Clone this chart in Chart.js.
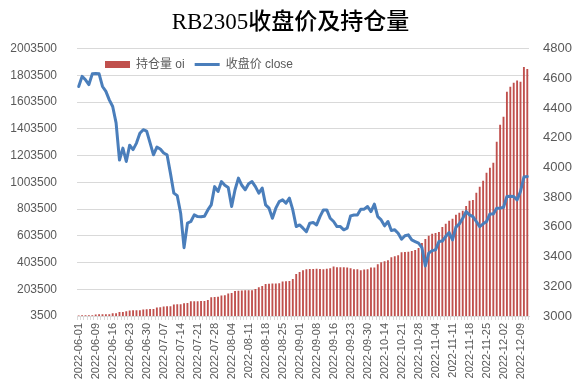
<!DOCTYPE html>
<html>
<head>
<meta charset="utf-8">
<title>RB2305收盘价及持仓量</title>
<script src="https://cdn.jsdelivr.net/npm/chart.js@4"></script>
<style>
  body { margin: 0; background: #fff; }
</style>
</head>
<body>
<canvas id="myChart" width="581" height="387"></canvas>
<script>
// trading days shown on the x axis
const dates = [
  "2022-06-01", "2022-06-02", "2022-06-06", "2022-06-07", "2022-06-08", "2022-06-09", "2022-06-10",
  "2022-06-13", "2022-06-14", "2022-06-15", "2022-06-16", "2022-06-17", "2022-06-20", "2022-06-21",
  "2022-06-22", "2022-06-23", "2022-06-24", "2022-06-27", "2022-06-28", "2022-06-29", "2022-06-30",
  "2022-07-01", "2022-07-04", "2022-07-05", "2022-07-06", "2022-07-07", "2022-07-08", "2022-07-11",
  "2022-07-12", "2022-07-13", "2022-07-14", "2022-07-15", "2022-07-18", "2022-07-19", "2022-07-20",
  "2022-07-21", "2022-07-22", "2022-07-25", "2022-07-26", "2022-07-27", "2022-07-28", "2022-07-29",
  "2022-08-01", "2022-08-02", "2022-08-03", "2022-08-04", "2022-08-05", "2022-08-08", "2022-08-09",
  "2022-08-10", "2022-08-11", "2022-08-12", "2022-08-15", "2022-08-16", "2022-08-17", "2022-08-18",
  "2022-08-19", "2022-08-22", "2022-08-23", "2022-08-24", "2022-08-25", "2022-08-26", "2022-08-29",
  "2022-08-30", "2022-08-31", "2022-09-01", "2022-09-02", "2022-09-05", "2022-09-06", "2022-09-07",
  "2022-09-08", "2022-09-09", "2022-09-13", "2022-09-14", "2022-09-15", "2022-09-16", "2022-09-19",
  "2022-09-20", "2022-09-21", "2022-09-22", "2022-09-23", "2022-09-26", "2022-09-27", "2022-09-28",
  "2022-09-29", "2022-09-30", "2022-10-10", "2022-10-11", "2022-10-12", "2022-10-13", "2022-10-14",
  "2022-10-17", "2022-10-18", "2022-10-19", "2022-10-20", "2022-10-21", "2022-10-24", "2022-10-25",
  "2022-10-26", "2022-10-27", "2022-10-28", "2022-10-31", "2022-11-01", "2022-11-02", "2022-11-03",
  "2022-11-04", "2022-11-07", "2022-11-08", "2022-11-09", "2022-11-10", "2022-11-11", "2022-11-14",
  "2022-11-15", "2022-11-16", "2022-11-17", "2022-11-18", "2022-11-21", "2022-11-22", "2022-11-23",
  "2022-11-24", "2022-11-25", "2022-11-28", "2022-11-29", "2022-11-30", "2022-12-01", "2022-12-02",
  "2022-12-05", "2022-12-06", "2022-12-07", "2022-12-08", "2022-12-09", "2022-12-12", "2022-12-13",
];

// open interest (bars, left axis)
const oi = [
  8000, 8500, 9000, 9500, 10000, 15000, 16000, 16000, 17000, 17000,
  24000, 25000, 33000, 34000, 39000, 45000, 46000, 47000, 47000, 53000,
  54000, 55000, 56000, 67000, 69000, 75000, 76000, 77000, 90000, 91000,
  92000, 98000, 100000, 113000, 114000, 114000, 115000, 116000, 123000, 143000,
  146000, 148000, 157000, 159000, 172000, 175000, 190000, 192000, 195000, 196000,
  196000, 197000, 206000, 218000, 228000, 243000, 245000, 246000, 246000, 248000,
  262000, 264000, 266000, 281000, 318000, 333000, 346000, 353000, 355000, 355000,
  357000, 355000, 354000, 356000, 361000, 373000, 368000, 368000, 368000, 367000,
  361000, 353000, 353000, 346000, 352000, 353000, 366000, 367000, 391000, 406000,
  413000, 421000, 443000, 451000, 458000, 481000, 483000, 484000, 490000, 498000,
  513000, 550000, 580000, 603000, 618000, 625000, 632000, 670000, 693000, 715000,
  730000, 760000, 775000, 790000, 827000, 865000, 872000, 925000, 970000, 1015000,
  1075000, 1112000, 1150000, 1307000, 1434000, 1494000, 1681000, 1719000, 1749000, 1764000,
  1756000, 1866000, 1851000,
];

// close price (line, right axis)
const close = [
  4545, 4613, 4590, 4558, 4630, 4632, 4630, 4545, 4512, 4455,
  4410, 4300, 4050, 4130, 4040, 4150, 4120, 4164, 4230, 4254,
  4245, 4165, 4085, 4137, 4124, 4097, 4085, 3960, 3827, 3810,
  3692, 3460, 3625, 3636, 3681, 3669, 3668, 3672, 3714, 3748,
  3871, 3838, 3905, 3880, 3865, 3737, 3850, 3928, 3880, 3850,
  3890, 3905, 3871, 3827, 3861, 3748, 3726, 3658, 3726, 3770,
  3782, 3760, 3793, 3714, 3602, 3613, 3591, 3568, 3625, 3629,
  3613, 3669, 3714, 3714, 3658, 3636, 3602, 3602, 3580, 3591,
  3674, 3680, 3680, 3719, 3719, 3737, 3703, 3753, 3669, 3647,
  3607, 3636, 3575, 3580, 3557, 3517, 3540, 3546, 3512, 3501,
  3490, 3460, 3337, 3423, 3440, 3445, 3501, 3505, 3535, 3562,
  3512, 3598, 3620, 3658, 3703, 3681, 3669, 3636, 3602, 3620,
  3636, 3687, 3687, 3726, 3726, 3732, 3804, 3806, 3804, 3782,
  3838, 3935, 3939,
];

const oiLabel = "持仓量 oi";
const closeLabel = "收盘价 close";

document.addEventListener("DOMContentLoaded", () => {
  Chart.defaults.font.family = "'Liberation Sans', 'Noto Sans CJK SC', sans-serif";
  Chart.defaults.color = "#595959";
  renderChart();
});

// the legend sits inside the plot area, near its top left corner
const legendInside = {
  id: "legendInside",
  afterLayout(chart) {
    const lg = chart.legend;
    const area = chart.chartArea;
    lg.top = area.top;
    lg.bottom = area.top + 32;
    lg.left = area.left + 18;
    lg.right = chart.width;
  },
};

function renderChart() {
  const ctx = document.getElementById("myChart").getContext("2d");
  new Chart(ctx, {
    data: {
      labels: dates,
      datasets: [
        {
          type: "bar",
          label: oiLabel,
          data: oi,
          yAxisID: "y",
          backgroundColor: "#C0504D",
          barPercentage: 0.55,
          categoryPercentage: 1,
          order: 1,
        },
        {
          type: "line",
          label: closeLabel,
          data: close,
          yAxisID: "y1",
          borderColor: "#4A7EBB",
          borderWidth: 3,
          pointRadius: 0,
          tension: 0,
          borderJoinStyle: "round",
          borderCapStyle: "round",
          order: 0,
        },
      ],
    },
    options: {
      responsive: false,
      animation: false,
      layout: { padding: 0 },
      plugins: {
        title: {
          display: true,
          text: "RB2305收盘价及持仓量",
          color: "#000",
          font: {
            family: "'Liberation Serif', 'Noto Sans CJK SC', serif",
            size: 23,
            weight: 500,
            lineHeight: 1.2,
          },
          padding: { top: 9, bottom: 11 },
        },
        legend: {
          position: "top",
          align: "start",
          maxHeight: 1, // takes no room; moved into the plot after layout
          labels: {
            usePointStyle: true,
            pointStyleWidth: 25,
            boxHeight: 7,
            padding: 10,
            color: "#595959",
            font: { size: 12 },
            // bar first, line drawn as a thick stroke
            generateLabels: (chart) => {
              const items = Chart.defaults.plugins.legend.labels.generateLabels(chart);
              items.sort((a, b) => a.datasetIndex - b.datasetIndex);
              items.forEach((item) => {
                if (item.datasetIndex === 0) {
                  item.pointStyle = "rect";
                  item.fillStyle = "#C0504D";
                  item.strokeStyle = "#C0504D";
                  item.lineWidth = 0;
                } else {
                  item.pointStyle = "line";
                  item.strokeStyle = "#4A7EBB";
                  item.lineWidth = 3;
                }
              });
              return items;
            },
          },
        },
        tooltip: { enabled: false },
      },
      scales: {
        x: {
          offset: true,
          grid: {
            offset: true,
            drawOnChartArea: false,
            tickLength: 4,
            color: "#d9d9d9",
          },
          border: { color: "#d9d9d9" },
          ticks: {
            autoSkip: false,
            minRotation: 90,
            maxRotation: 90,
            padding: 3,
            font: { size: 11 },
            callback: (value, index) => (index % 5 === 0 ? dates[index] : ""),
          },
          afterFit: (scale) => {
            scale.height = 71;
          },
        },
        y: {
          position: "left",
          min: 3500,
          max: 2003500,
          grid: { color: "#d9d9d9", drawTicks: false },
          border: { display: false },
          ticks: {
            stepSize: 200000,
            padding: 20,
            font: { size: 12 },
            callback: (value) => String(value),
          },
          afterFit: (scale) => {
            scale.width = 77;
          },
        },
        y1: {
          position: "right",
          min: 3000,
          max: 4800,
          grid: { drawOnChartArea: false, drawTicks: false },
          border: { display: false },
          ticks: {
            stepSize: 200,
            padding: 14,
            font: { size: 13 },
            callback: (value) => String(value),
          },
          afterFit: (scale) => {
            scale.width = 52;
          },
        },
      },
    },
    plugins: [legendInside],
  });
}
</script>
</body>
</html>
